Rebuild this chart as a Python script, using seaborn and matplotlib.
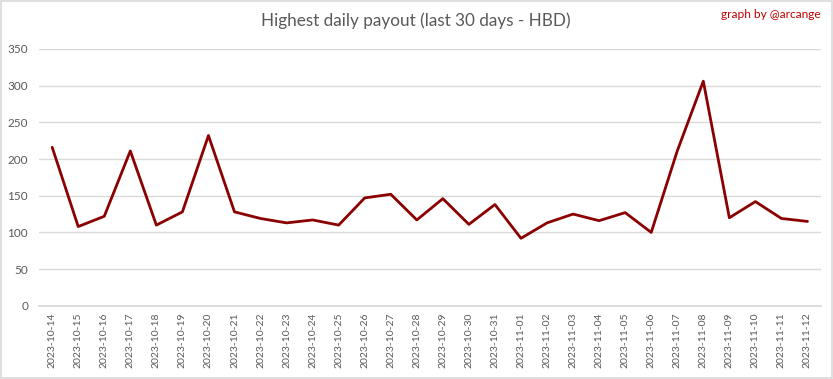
import matplotlib
matplotlib.use("Agg")
from matplotlib import pyplot as plt
from matplotlib import patches
import pandas as pd
import seaborn as sns

# daily highest payout, HBD
dates = pd.date_range("2023-10-14", "2023-11-12", freq="D").strftime("%Y-%m-%d").tolist()
payout = [216, 108, 122, 211, 110, 128, 232, 128, 119, 113,
          117, 110, 147, 152, 117, 146, 111, 138, 92, 113,
          125, 116, 127, 100, 211, 306, 120, 142, 119, 115]
yticks = [0, 50, 100, 150, 200, 250, 300, 350]

df = pd.DataFrame({"Date": dates, "Payout": payout})

sns.set_theme(style="white")
plt.rcParams["font.family"] = ["Lato", "DejaVu Sans"]

fig = plt.figure(figsize=(8.33, 3.79), dpi=100)
ax = fig.add_axes([0.047, 0.193, 0.938, 0.678])

sns.lineplot(data=df, x="Date", y="Payout", ax=ax, color="#8b0000", linewidth=2, sort=False)

ax.set_xlim(-0.5, len(dates) - 0.5)
ax.set_ylim(0, 350)
ax.set_yticks(yticks)
ax.grid(axis="y", color="#d9d9d9", linewidth=1)
ax.set_axisbelow(True)
for s in ["left", "right", "top"]:
    ax.spines[s].set_visible(False)
ax.spines["bottom"].set_color("#d9d9d9")
ax.tick_params(axis="x", labelrotation=90, labelsize=7.5, colors="#595959", length=0, pad=5)
ax.tick_params(axis="y", labelsize=8.5, colors="#595959", length=0, pad=8)
ax.set_xlabel("")
ax.set_ylabel("")

fig.text(0.499, 0.945, "Highest daily payout (last 30 days - HBD)", ha="center", va="center",
         fontsize=12.3, color="#595959")
fig.text(0.985, 0.962, "graph by @arcange", ha="right", va="center", fontsize=8.6, color="#c00000")

fig.patches.append(patches.Rectangle((0.001, 0.002), 0.998, 0.996, transform=fig.transFigure,
                                     fill=False, edgecolor="#d9d9d9", linewidth=1.2))

fig.savefig("out.png", dpi=100)
